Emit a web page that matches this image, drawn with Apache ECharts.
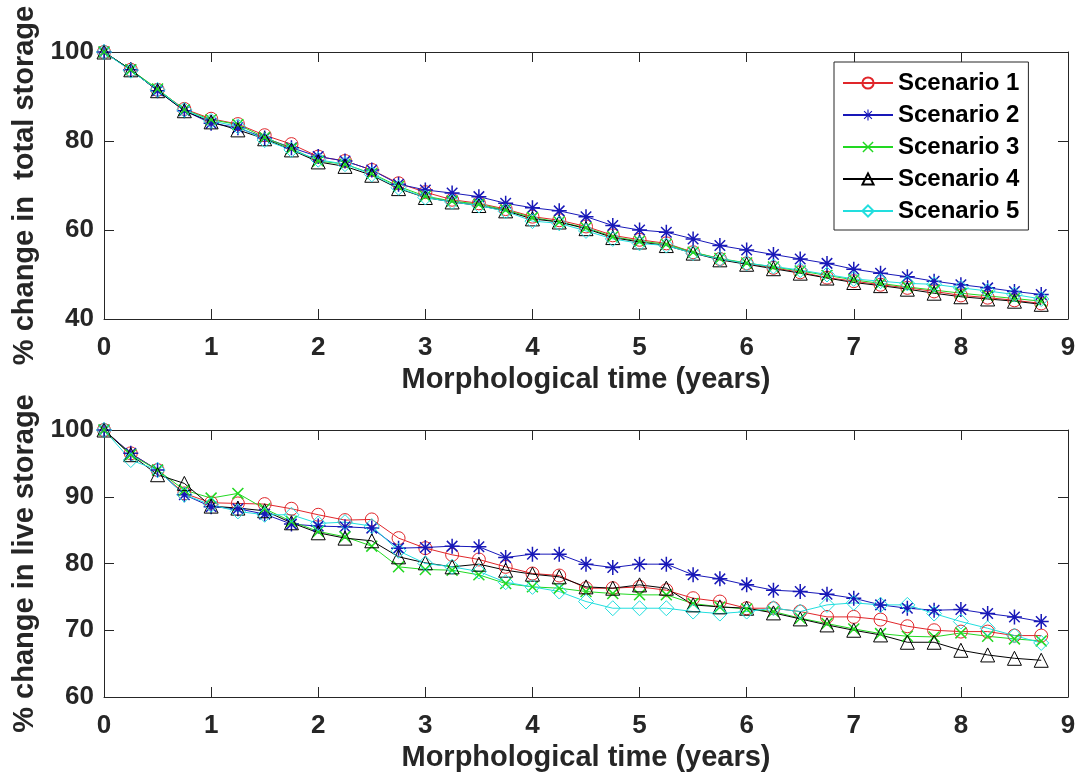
<!DOCTYPE html>
<html>
<head>
<meta charset="utf-8">
<script src="https://cdn.jsdelivr.net/npm/echarts@6/dist/echarts.min.js"></script>
<style>
  html, body { margin: 0; padding: 0; background: #fff; }
  #chart { width: 1079px; height: 780px; }
</style>
</head>
<body>
<div id="chart"></div>
<script>
// morphological time (years), one point every quarter year
const timeYears = [0, 0.25, 0.5, 0.75, 1, 1.25, 1.5, 1.75, 2, 2.25, 2.5, 2.75, 3, 3.25, 3.5, 3.75, 4, 4.25,
  4.5, 4.75, 5, 5.25, 5.5, 5.75, 6, 6.25, 6.5, 6.75, 7, 7.25, 7.5, 7.75, 8, 8.25, 8.5, 8.75];

const scenarioNames = ['Scenario 1', 'Scenario 2', 'Scenario 3', 'Scenario 4', 'Scenario 5'];

// % change in total storage (top panel)
const totalS1 = [100, 96, 91.5, 87.2, 85, 83.8, 81.3, 79.3, 76.5, 75.5, 73.5, 70.5, 68.5, 66.8, 66, 64.7, 63, 62.2,
  60.8, 58.8, 57.8, 57, 55, 53.5, 52.5, 51.5, 50.5, 49.3, 48.5, 47.7, 47, 46.2, 45.3, 44.8, 44.2, 43.5];
const totalS2 = [100, 96, 91.3, 86.8, 84, 83, 80.7, 78.5, 76.5, 75.5, 73.5, 70.3, 69, 68.3, 67.5, 66, 65, 64.3,
  63, 61, 60, 59.5, 58, 56.5, 55.5, 54.5, 53.5, 52.5, 51.2, 50.3, 49.5, 48.5, 47.7, 47, 46.2, 45.5];
const totalS3 = [100, 96, 91.7, 87, 84.8, 83.7, 80.8, 78.3, 75.5, 74.8, 72.7, 69.8, 67.6, 66.5, 65.8, 64.5, 62.8, 61.8,
  60.5, 58.5, 57.5, 56.8, 55, 53.6, 52.6, 51.7, 50.8, 49.8, 48.8, 48, 47.2, 46.5, 45.8, 45.2, 44.6, 44];
const totalS4 = [100, 96, 91.3, 86.8, 84.3, 82.5, 80.5, 78, 75.3, 74.3, 72.3, 69.3, 67.3, 66.3, 65.5, 64.3, 62.5, 61.8,
  60.3, 58.3, 57.3, 56.5, 54.8, 53.3, 52.3, 51.3, 50.3, 49.2, 48.2, 47.5, 46.7, 45.8, 45, 44.5, 44, 43.3];
const totalS5 = [100, 95.8, 91.5, 87, 84.5, 83.3, 80.2, 78, 75.8, 74.8, 72.5, 69.5, 67.3, 66.3, 65.5, 64.2, 62, 61.5,
  59.8, 58, 57, 56.5, 54.8, 53.5, 52.5, 51.8, 51, 50, 49, 48.5, 48, 47.8, 47, 46.3, 45.5, 44.5];

// % change in live storage (bottom panel)
const liveS1 = [100, 96.5, 94, 90.5, 89.1, 89, 88.9, 88.2, 87.3, 86.5, 86.6, 83.8, 82.3, 81.3, 80.6, 79.5, 78.5, 78.2,
  76.3, 76.3, 76.5, 76, 74.8, 74.3, 73.3, 73.3, 72.8, 72, 72, 71.6, 70.6, 70, 69.8, 69.8, 69.2, 69.2];
const liveS2 = [100, 96.5, 94, 90.3, 88.5, 88.2, 87.4, 85.9, 85.6, 85.5, 85.3, 82.3, 82.4, 82.6, 82.5, 80.9, 81.4, 81.4,
  79.9, 79.4, 79.9, 79.9, 78.3, 77.7, 76.8, 76, 75.8, 75.4, 74.8, 73.8, 73.3, 73, 73.1, 72.5, 72, 71.3];
const liveS3 = [100, 96.3, 94, 91, 89.8, 90.5, 88.2, 86.3, 84.8, 84, 82.6, 79.5, 79.1, 79, 78.3, 77, 76.5, 76.3,
  75.8, 75.5, 75.3, 75.3, 74, 73.5, 73.2, 72.8, 71.8, 71, 70.2, 69.5, 69.1, 69, 69.6, 69.1, 68.7, 68.4];
const liveS4 = [100, 96.3, 93.3, 92, 88.6, 88.3, 87.9, 86.1, 84.6, 83.8, 83.4, 81, 80.1, 79.5, 79.9, 79, 78.4, 78,
  76.5, 76.3, 76.8, 76.3, 73.8, 73.5, 73.3, 72.6, 71.7, 70.8, 70, 69.3, 68.2, 68.2, 67, 66.3, 65.8, 65.5];
const liveS5 = [100, 95.5, 94, 90.3, 88.8, 87.8, 87.3, 87.3, 86, 86.2, 85.6, 81.9, 80, 79.5, 78.8, 77.2, 76.5, 75.8,
  74.3, 73.3, 73.3, 73.3, 72.8, 72.5, 72.8, 73.3, 72.8, 73.8, 74.1, 73.8, 73.8, 72.5, 71.3, 70.3, 69.2, 68.1];

const totalData = [totalS1, totalS2, totalS3, totalS4, totalS5];
const liveData = [liveS1, liveS2, liveS3, liveS4, liveS5];

const FONT = 'Liberation Sans, Arial, Helvetica, sans-serif';
const AXIS_COLOR = '#262626';

// matlab style markers: o, *, x, ^, diamond
const starPath = 'path://M-1,-10L1,-10L1,10L-1,10Z M-10,-1L10,-1L10,1L-10,1Z ' +
  'M-6.3,-7.7L7.7,6.3L6.3,7.7L-7.7,-6.3Z M-7.7,6.3L6.3,-7.7L7.7,-6.3L-6.3,7.7Z';
const crossPath = 'path://M-6.3,-7.7L7.7,6.3L6.3,7.7L-7.7,-6.3Z M-7.7,6.3L6.3,-7.7L7.7,-6.3L-6.3,7.7Z';

const styles = [
  { color: '#e0262a', symbol: 'circle', size: 13, hollow: true },
  { color: '#1818b8', symbol: starPath, size: 15, hollow: false },
  { color: '#22d822', symbol: crossPath, size: 12, hollow: false },
  { color: '#000000', symbol: 'triangle', size: 14, hollow: true },
  { color: '#22dede', symbol: 'diamond', size: 15, hollow: true }
];

const chart = echarts.init(document.getElementById('chart'), null, { renderer: 'canvas' });

function xAxes(gridIndex) {
  const tick = { show: true, inside: true, length: 10, lineStyle: { color: AXIS_COLOR, width: 1 } };
  const line = { show: true, onZero: false, lineStyle: { color: AXIS_COLOR, width: 1 } };
  return [{
    type: 'value', gridIndex, position: 'bottom', min: 0, max: 9, interval: 1,
    axisLine: line, axisTick: tick, splitLine: { show: false },
    axisLabel: { fontSize: 26, fontWeight: 'bold', fontFamily: FONT, color: AXIS_COLOR, margin: 16 },
    name: 'Morphological time (years)', nameLocation: 'middle', nameGap: 46,
    nameTextStyle: { fontSize: 29, fontWeight: 'bold', fontFamily: FONT, color: AXIS_COLOR }
  }, {
    type: 'value', gridIndex, position: 'top', min: 0, max: 9, interval: 1,
    axisLine: line, axisTick: tick, splitLine: { show: false }, axisLabel: { show: false }
  }];
}

function yAxes(gridIndex, min, interval, name) {
  const tick = { show: true, inside: true, length: 10, lineStyle: { color: AXIS_COLOR, width: 1 } };
  const line = { show: true, onZero: false, lineStyle: { color: AXIS_COLOR, width: 1 } };
  return [{
    type: 'value', gridIndex, position: 'left', min, max: 100, interval,
    axisLine: line, axisTick: tick, splitLine: { show: false },
    axisLabel: { fontSize: 26, fontWeight: 'bold', fontFamily: FONT, color: AXIS_COLOR, margin: 10 },
    name, nameLocation: 'middle', nameGap: 65, nameRotate: 90,
    nameTextStyle: { fontSize: 29, fontWeight: 'bold', fontFamily: FONT, color: AXIS_COLOR }
  }, {
    type: 'value', gridIndex, position: 'right', min, max: 100, interval,
    axisLine: line, axisTick: tick, splitLine: { show: false }, axisLabel: { show: false }
  }];
}

function makeSeries(dataSets, axisIndex) {
  return dataSets.map((vals, i) => {
    const s = styles[i];
    return {
      type: 'line',
      name: scenarioNames[i],
      xAxisIndex: axisIndex,
      yAxisIndex: axisIndex,
      data: timeYears.map((t, k) => [t, vals[k]]),
      symbol: s.symbol,
      symbolSize: s.size,
      showSymbol: true,
      lineStyle: { color: s.color, width: 1 },
      itemStyle: s.hollow
        ? { color: 'transparent', borderColor: s.color, borderWidth: 1 }
        : { color: s.color, borderWidth: 0 },
      emphasis: { disabled: true },
      animation: false
    };
  });
}

const option = {
  backgroundColor: '#ffffff',
  grid: [
    { left: 104, right: 11, top: 52, height: 267 },
    { left: 104, right: 11, top: 430, height: 267 }
  ],
  legend: {
    data: scenarioNames,
    orient: 'vertical',
    left: 834,
    top: 62,
    padding: [9, 9, 7, 8],
    itemGap: 8,
    itemWidth: 50,
    itemHeight: 14,
    backgroundColor: '#ffffff',
    borderColor: AXIS_COLOR,
    borderWidth: 1,
    textStyle: { fontSize: 24, fontWeight: 'bold', fontFamily: FONT, color: '#000' }
  },
  xAxis: [...xAxes(0), ...xAxes(1)],
  yAxis: [
    ...yAxes(0, 40, 20, '% change in  total storage'),
    ...yAxes(1, 60, 10, '% change in live storage')
  ],
  series: [...makeSeries(totalData, 0), ...makeSeries(liveData, 2)]
};

chart.setOption(option);
</script>
</body>
</html>
